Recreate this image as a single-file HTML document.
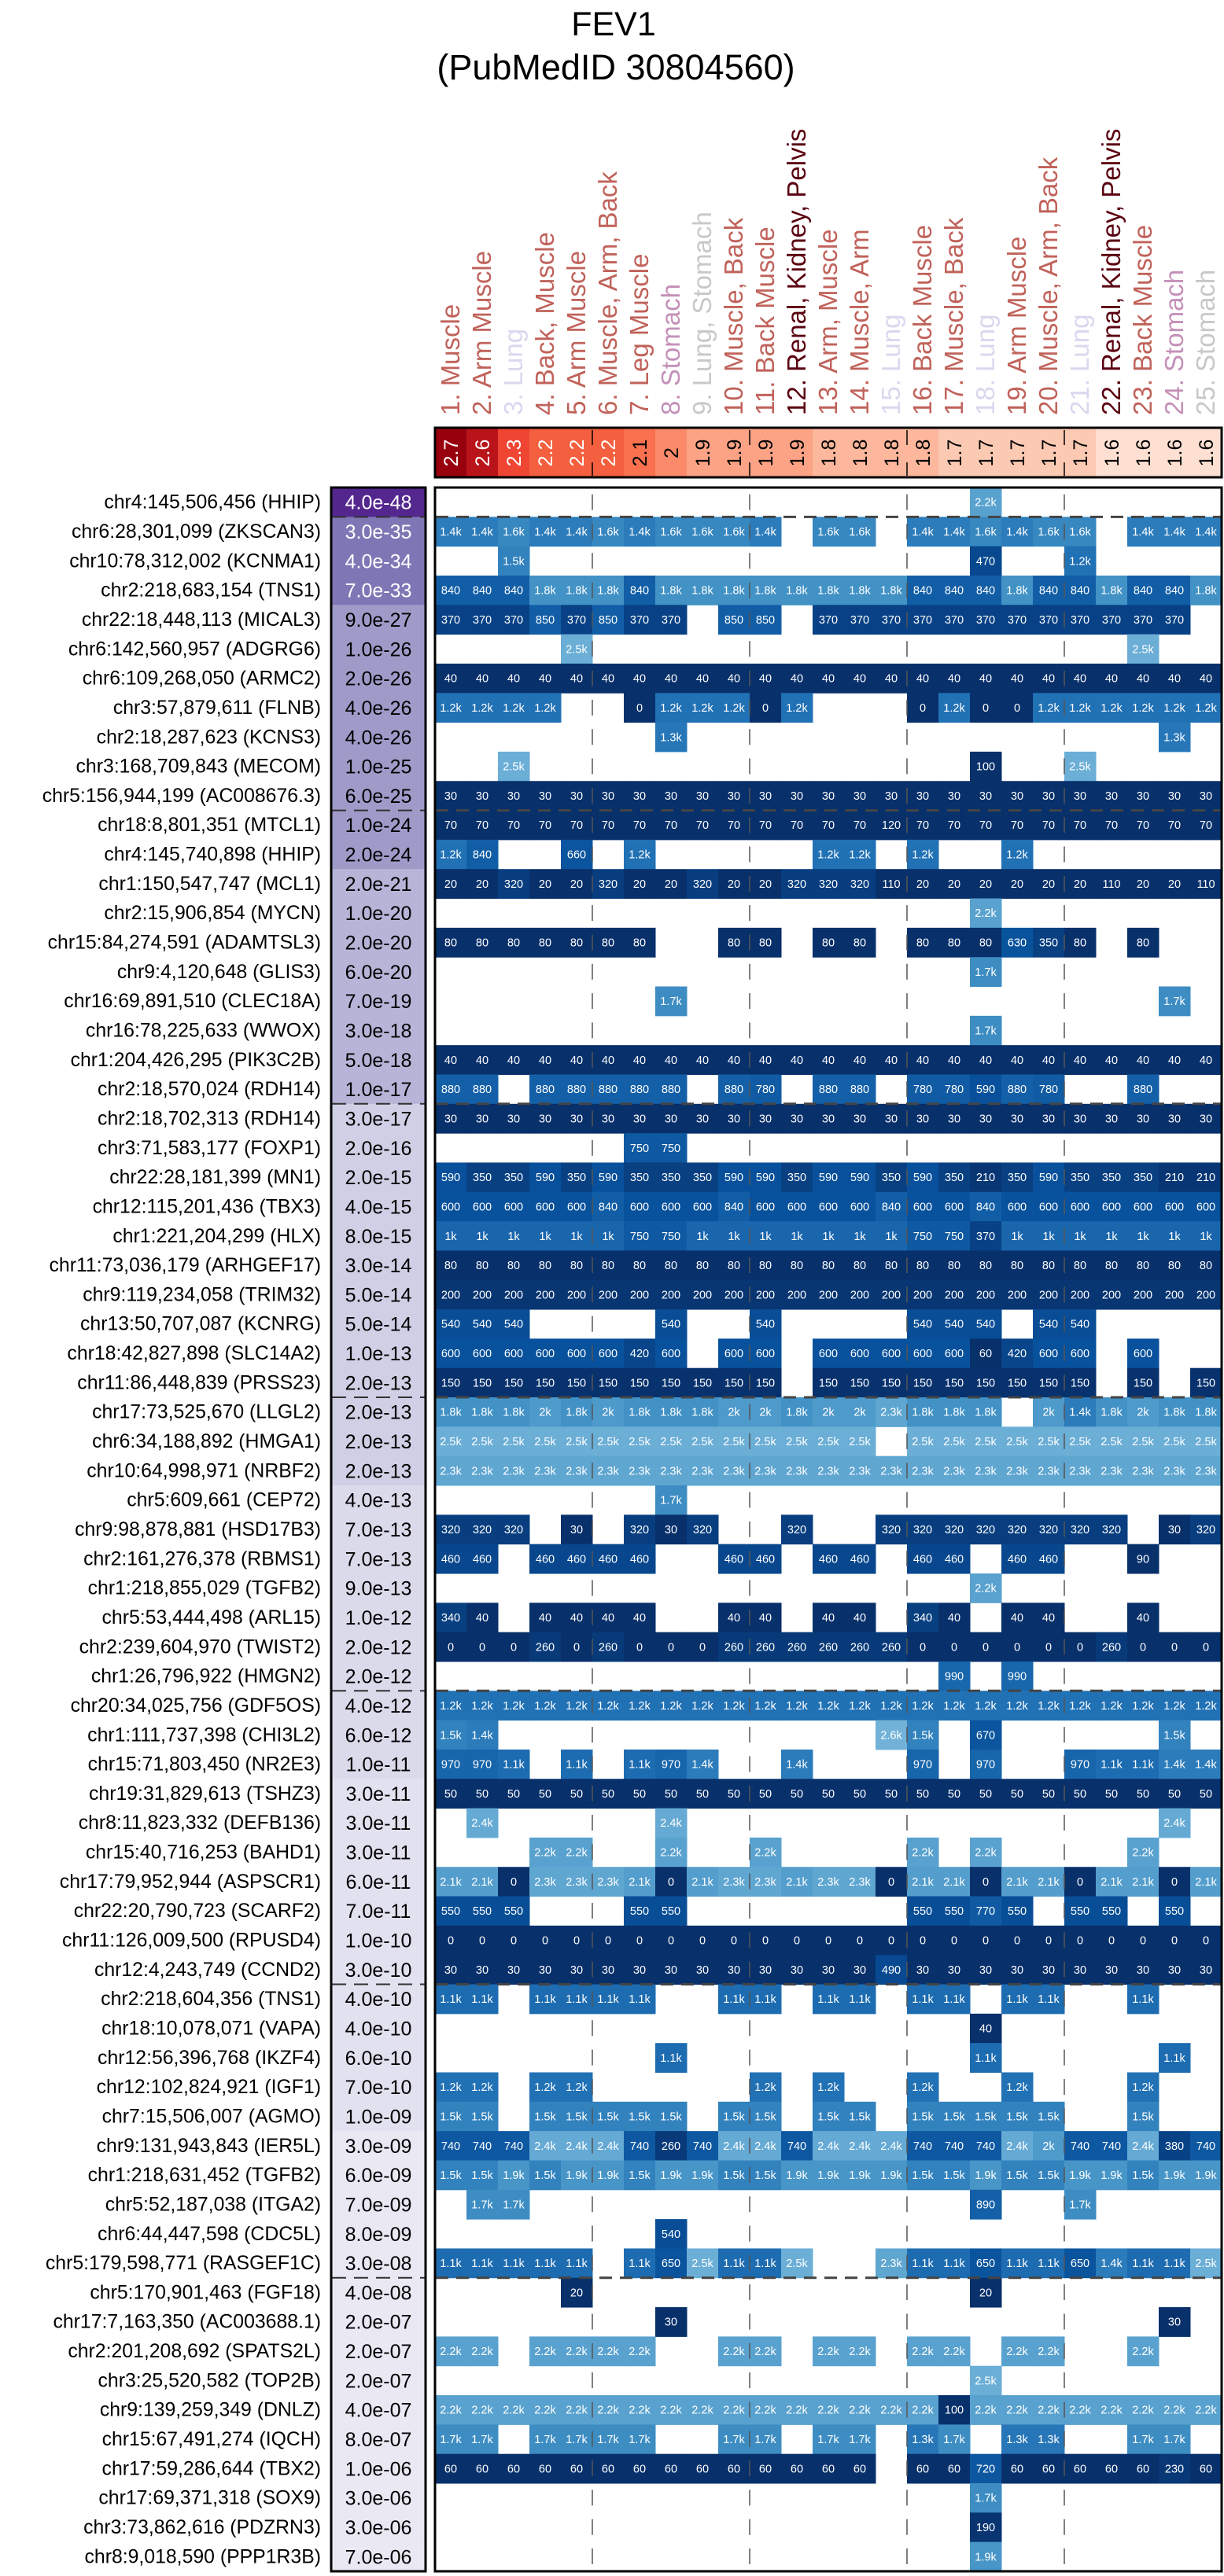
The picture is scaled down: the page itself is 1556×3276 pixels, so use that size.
<!DOCTYPE html>
<html><head><meta charset="utf-8"><title>FEV1 heatmap</title>
<style>
html,body{margin:0;padding:0;background:#fff;}
svg{display:block;font-family:"Liberation Sans",Arial,sans-serif;}
</style></head>
<body>
<svg id="chart" xmlns="http://www.w3.org/2000/svg" width="1556" height="3276" viewBox="0 0 1556 3276">
<text x="780" y="45" text-anchor="middle" font-size="43">FEV1</text>
<text x="783" y="101" text-anchor="middle" font-size="45">(PubMedID 30804560)</text>
<g id="hdr"></g>
<g id="pcol"></g>
<g id="cells"></g>
<g id="labels"></g>
<g id="overlay"></g>
</svg>
<script>
const _ = null;
const columnLabels = ["1. Muscle","2. Arm Muscle","3. Lung","4. Back, Muscle","5. Arm Muscle","6. Muscle, Arm, Back","7. Leg Muscle","8. Stomach","9. Lung, Stomach","10. Muscle, Back","11. Back Muscle","12. Renal, Kidney, Pelvis","13. Arm, Muscle","14. Muscle, Arm","15. Lung","16. Back Muscle","17. Muscle, Back","18. Lung","19. Arm Muscle","20. Muscle, Arm, Back","21. Lung","22. Renal, Kidney, Pelvis","23. Back Muscle","24. Stomach","25. Stomach"];
const columnKinds = ["m","m","l","m","m","m","m","s","g","m","m","r","m","m","l","m","m","l","m","m","l","r","m","s","g"];
const columnScores = [2.7,2.6,2.3,2.2,2.2,2.2,2.1,2,1.9,1.9,1.9,1.9,1.8,1.8,1.8,1.8,1.7,1.7,1.7,1.7,1.7,1.6,1.6,1.6,1.6];
const rowLabels = ["chr4:145,506,456 (HHIP)","chr6:28,301,099 (ZKSCAN3)","chr10:78,312,002 (KCNMA1)","chr2:218,683,154 (TNS1)","chr22:18,448,113 (MICAL3)","chr6:142,560,957 (ADGRG6)","chr6:109,268,050 (ARMC2)","chr3:57,879,611 (FLNB)","chr2:18,287,623 (KCNS3)","chr3:168,709,843 (MECOM)","chr5:156,944,199 (AC008676.3)","chr18:8,801,351 (MTCL1)","chr4:145,740,898 (HHIP)","chr1:150,547,747 (MCL1)","chr2:15,906,854 (MYCN)","chr15:84,274,591 (ADAMTSL3)","chr9:4,120,648 (GLIS3)","chr16:69,891,510 (CLEC18A)","chr16:78,225,633 (WWOX)","chr1:204,426,295 (PIK3C2B)","chr2:18,570,024 (RDH14)","chr2:18,702,313 (RDH14)","chr3:71,583,177 (FOXP1)","chr22:28,181,399 (MN1)","chr12:115,201,436 (TBX3)","chr1:221,204,299 (HLX)","chr11:73,036,179 (ARHGEF17)","chr9:119,234,058 (TRIM32)","chr13:50,707,087 (KCNRG)","chr18:42,827,898 (SLC14A2)","chr11:86,448,839 (PRSS23)","chr17:73,525,670 (LLGL2)","chr6:34,188,892 (HMGA1)","chr10:64,998,971 (NRBF2)","chr5:609,661 (CEP72)","chr9:98,878,881 (HSD17B3)","chr2:161,276,378 (RBMS1)","chr1:218,855,029 (TGFB2)","chr5:53,444,498 (ARL15)","chr2:239,604,970 (TWIST2)","chr1:26,796,922 (HMGN2)","chr20:34,025,756 (GDF5OS)","chr1:111,737,398 (CHI3L2)","chr15:71,803,450 (NR2E3)","chr19:31,829,613 (TSHZ3)","chr8:11,823,332 (DEFB136)","chr15:40,716,253 (BAHD1)","chr17:79,952,944 (ASPSCR1)","chr22:20,790,723 (SCARF2)","chr11:126,009,500 (RPUSD4)","chr12:4,243,749 (CCND2)","chr2:218,604,356 (TNS1)","chr18:10,078,071 (VAPA)","chr12:56,396,768 (IKZF4)","chr12:102,824,921 (IGF1)","chr7:15,506,007 (AGMO)","chr9:131,943,843 (IER5L)","chr1:218,631,452 (TGFB2)","chr5:52,187,038 (ITGA2)","chr6:44,447,598 (CDC5L)","chr5:179,598,771 (RASGEF1C)","chr5:170,901,463 (FGF18)","chr17:7,163,350 (AC003688.1)","chr2:201,208,692 (SPATS2L)","chr3:25,520,582 (TOP2B)","chr9:139,259,349 (DNLZ)","chr15:67,491,274 (IQCH)","chr17:59,286,644 (TBX2)","chr17:69,371,318 (SOX9)","chr3:73,862,616 (PDZRN3)","chr8:9,018,590 (PPP1R3B)"];
const pValues = ["4.0e-48","3.0e-35","4.0e-34","7.0e-33","9.0e-27","1.0e-26","2.0e-26","4.0e-26","4.0e-26","1.0e-25","6.0e-25","1.0e-24","2.0e-24","2.0e-21","1.0e-20","2.0e-20","6.0e-20","7.0e-19","3.0e-18","5.0e-18","1.0e-17","3.0e-17","2.0e-16","2.0e-15","4.0e-15","8.0e-15","3.0e-14","5.0e-14","5.0e-14","1.0e-13","2.0e-13","2.0e-13","2.0e-13","2.0e-13","4.0e-13","7.0e-13","7.0e-13","9.0e-13","1.0e-12","2.0e-12","2.0e-12","4.0e-12","6.0e-12","1.0e-11","3.0e-11","3.0e-11","3.0e-11","6.0e-11","7.0e-11","1.0e-10","3.0e-10","4.0e-10","4.0e-10","6.0e-10","7.0e-10","1.0e-09","3.0e-09","6.0e-09","7.0e-09","8.0e-09","3.0e-08","4.0e-08","2.0e-07","2.0e-07","2.0e-07","4.0e-07","8.0e-07","1.0e-06","3.0e-06","3.0e-06","7.0e-06"];
const groupBreaks = [1,11,21,31,41,51,61];
const cellValues = [
[_,_,_,_,_,_,_,_,_,_,_,_,_,_,_,_,_,2200,_,_,_,_,_,_,_],
[1400,1400,1600,1400,1400,1600,1400,1600,1600,1600,1400,_,1600,1600,_,1400,1400,1600,1400,1600,1600,_,1400,1400,1400],
[_,_,1500,_,_,_,_,_,_,_,_,_,_,_,_,_,_,470,_,_,1200,_,_,_,_],
[840,840,840,1800,1800,1800,840,1800,1800,1800,1800,1800,1800,1800,1800,840,840,840,1800,840,840,1800,840,840,1800],
[370,370,370,850,370,850,370,370,_,850,850,_,370,370,370,370,370,370,370,370,370,370,370,370,_],
[_,_,_,_,2500,_,_,_,_,_,_,_,_,_,_,_,_,_,_,_,_,_,2500,_,_],
[40,40,40,40,40,40,40,40,40,40,40,40,40,40,40,40,40,40,40,40,40,40,40,40,40],
[1200,1200,1200,1200,_,_,0,1200,1200,1200,0,1200,_,_,_,0,1200,0,0,1200,1200,1200,1200,1200,1200],
[_,_,_,_,_,_,_,1300,_,_,_,_,_,_,_,_,_,_,_,_,_,_,_,1300,_],
[_,_,2500,_,_,_,_,_,_,_,_,_,_,_,_,_,_,100,_,_,2500,_,_,_,_],
[30,30,30,30,30,30,30,30,30,30,30,30,30,30,30,30,30,30,30,30,30,30,30,30,30],
[70,70,70,70,70,70,70,70,70,70,70,70,70,70,120,70,70,70,70,70,70,70,70,70,70],
[1200,840,_,_,660,_,1200,_,_,_,_,_,1200,1200,_,1200,_,_,1200,_,_,_,_,_,_],
[20,20,320,20,20,320,20,20,320,20,20,320,320,320,110,20,20,20,20,20,20,110,20,20,110],
[_,_,_,_,_,_,_,_,_,_,_,_,_,_,_,_,_,2200,_,_,_,_,_,_,_],
[80,80,80,80,80,80,80,_,_,80,80,_,80,80,_,80,80,80,630,350,80,_,80,_,_],
[_,_,_,_,_,_,_,_,_,_,_,_,_,_,_,_,_,1700,_,_,_,_,_,_,_],
[_,_,_,_,_,_,_,1700,_,_,_,_,_,_,_,_,_,_,_,_,_,_,_,1700,_],
[_,_,_,_,_,_,_,_,_,_,_,_,_,_,_,_,_,1700,_,_,_,_,_,_,_],
[40,40,40,40,40,40,40,40,40,40,40,40,40,40,40,40,40,40,40,40,40,40,40,40,40],
[880,880,_,880,880,880,880,880,_,880,780,_,880,880,_,780,780,590,880,780,_,_,880,_,_],
[30,30,30,30,30,30,30,30,30,30,30,30,30,30,30,30,30,30,30,30,30,30,30,30,30],
[_,_,_,_,_,_,750,750,_,_,_,_,_,_,_,_,_,_,_,_,_,_,_,_,_],
[590,350,350,590,350,590,350,350,350,590,590,350,590,590,350,590,350,210,350,590,350,350,350,210,210],
[600,600,600,600,600,840,600,600,600,840,600,600,600,600,840,600,600,840,600,600,600,600,600,600,600],
[1000,1000,1000,1000,1000,1000,750,750,1000,1000,1000,1000,1000,1000,1000,750,750,370,1000,1000,1000,1000,1000,1000,1000],
[80,80,80,80,80,80,80,80,80,80,80,80,80,80,80,80,80,80,80,80,80,80,80,80,80],
[200,200,200,200,200,200,200,200,200,200,200,200,200,200,200,200,200,200,200,200,200,200,200,200,200],
[540,540,540,_,_,_,_,540,_,_,540,_,_,_,_,540,540,540,_,540,540,_,_,_,_],
[600,600,600,600,600,600,420,600,_,600,600,_,600,600,600,600,600,60,420,600,600,_,600,_,_],
[150,150,150,150,150,150,150,150,150,150,150,_,150,150,150,150,150,150,150,150,150,_,150,_,150],
[1800,1800,1800,2000,1800,2000,1800,1800,1800,2000,2000,1800,2000,2000,2300,1800,1800,1800,_,2000,1400,1800,2000,1800,1800],
[2500,2500,2500,2500,2500,2500,2500,2500,2500,2500,2500,2500,2500,2500,_,2500,2500,2500,2500,2500,2500,2500,2500,2500,2500],
[2300,2300,2300,2300,2300,2300,2300,2300,2300,2300,2300,2300,2300,2300,2300,2300,2300,2300,2300,2300,2300,2300,2300,2300,2300],
[_,_,_,_,_,_,_,1700,_,_,_,_,_,_,_,_,_,_,_,_,_,_,_,_,_],
[320,320,320,_,30,_,320,30,320,_,_,320,_,_,320,320,320,320,320,320,320,320,_,30,320],
[460,460,_,460,460,460,460,_,_,460,460,_,460,460,_,460,460,_,460,460,_,_,90,_,_],
[_,_,_,_,_,_,_,_,_,_,_,_,_,_,_,_,_,2200,_,_,_,_,_,_,_],
[340,40,_,40,40,40,40,_,_,40,40,_,40,40,_,340,40,_,40,40,_,_,40,_,_],
[0,0,0,260,0,260,0,0,0,260,260,260,260,260,260,0,0,0,0,0,0,260,0,0,0],
[_,_,_,_,_,_,_,_,_,_,_,_,_,_,_,_,990,_,990,_,_,_,_,_,_],
[1200,1200,1200,1200,1200,1200,1200,1200,1200,1200,1200,1200,1200,1200,1200,1200,1200,1200,1200,1200,1200,1200,1200,1200,1200],
[1500,1400,_,_,_,_,_,_,_,_,_,_,_,_,2600,1500,_,670,_,_,_,_,_,1500,_],
[970,970,1100,_,1100,_,1100,970,1400,_,_,1400,_,_,_,970,_,970,_,_,970,1100,1100,1400,1400],
[50,50,50,50,50,50,50,50,50,50,50,50,50,50,50,50,50,50,50,50,50,50,50,50,50],
[_,2400,_,_,_,_,_,2400,_,_,_,_,_,_,_,_,_,_,_,_,_,_,_,2400,_],
[_,_,_,2200,2200,_,_,2200,_,_,2200,_,_,_,_,2200,_,2200,_,_,_,_,2200,_,_],
[2100,2100,0,2300,2300,2300,2100,0,2100,2300,2300,2100,2300,2300,0,2100,2100,0,2100,2100,0,2100,2100,0,2100],
[550,550,550,_,_,_,550,550,_,_,_,_,_,_,_,550,550,770,550,_,550,550,_,550,_],
[0,0,0,0,0,0,0,0,0,0,0,0,0,0,0,0,0,0,0,0,0,0,0,0,0],
[30,30,30,30,30,30,30,30,30,30,30,30,30,30,490,30,30,30,30,30,30,30,30,30,30],
[1100,1100,_,1100,1100,1100,1100,_,_,1100,1100,_,1100,1100,_,1100,1100,_,1100,1100,_,_,1100,_,_],
[_,_,_,_,_,_,_,_,_,_,_,_,_,_,_,_,_,40,_,_,_,_,_,_,_],
[_,_,_,_,_,_,_,1100,_,_,_,_,_,_,_,_,_,1100,_,_,_,_,_,1100,_],
[1200,1200,_,1200,1200,_,_,_,_,_,1200,_,1200,_,_,1200,_,_,1200,_,_,_,1200,_,_],
[1500,1500,_,1500,1500,1500,1500,1500,_,1500,1500,_,1500,1500,_,1500,1500,1500,1500,1500,_,_,1500,_,_],
[740,740,740,2400,2400,2400,740,260,740,2400,2400,740,2400,2400,2400,740,740,740,2400,2000,740,740,2400,380,740],
[1500,1500,1900,1500,1900,1900,1500,1900,1900,1500,1500,1900,1900,1900,1900,1500,1500,1900,1500,1500,1900,1900,1500,1900,1900],
[_,1700,1700,_,_,_,_,_,_,_,_,_,_,_,_,_,_,890,_,_,1700,_,_,_,_],
[_,_,_,_,_,_,_,540,_,_,_,_,_,_,_,_,_,_,_,_,_,_,_,_,_],
[1100,1100,1100,1100,1100,_,1100,650,2500,1100,1100,2500,_,_,2300,1100,1100,650,1100,1100,650,1400,1100,1100,2500],
[_,_,_,_,20,_,_,_,_,_,_,_,_,_,_,_,_,20,_,_,_,_,_,_,_],
[_,_,_,_,_,_,_,30,_,_,_,_,_,_,_,_,_,_,_,_,_,_,_,30,_],
[2200,2200,_,2200,2200,2200,2200,_,_,2200,2200,_,2200,2200,_,2200,2200,_,2200,2200,_,_,2200,_,_],
[_,_,_,_,_,_,_,_,_,_,_,_,_,_,_,_,_,2500,_,_,_,_,_,_,_],
[2200,2200,2200,2200,2200,2200,2200,2200,2200,2200,2200,2200,2200,2200,2200,2200,100,2200,2200,2200,2200,2200,2200,2200,2200],
[1700,1700,_,1700,1700,1700,1700,_,_,1700,1700,_,1700,1700,_,1300,1700,_,1300,1300,_,_,1700,1700,_],
[60,60,60,60,60,60,60,60,60,60,60,60,60,60,_,60,60,720,60,60,60,60,60,230,60],
[_,_,_,_,_,_,_,_,_,_,_,_,_,_,_,_,_,1700,_,_,_,_,_,_,_],
[_,_,_,_,_,_,_,_,_,_,_,_,_,_,_,_,_,190,_,_,_,_,_,_,_],
[_,_,_,_,_,_,_,_,_,_,_,_,_,_,_,_,_,1900,_,_,_,_,_,_,_]
];

const NS = "http://www.w3.org/2000/svg";
const X0 = 553, CW = 40, Y0 = 620, Y1 = 3270;
const RH = (Y1 - Y0) / rowLabels.length;
function xCol(i){ return X0 + i * CW; }
function yRow(r){ return Y0 + r * RH; }
function mk(tag, attrs, parent){
  const el = document.createElementNS(NS, tag);
  for (const k in attrs) el.setAttribute(k, attrs[k]);
  parent.appendChild(el);
  return el;
}
function hex(c){ return [parseInt(c.slice(1,3),16),parseInt(c.slice(3,5),16),parseInt(c.slice(5,7),16)]; }
function lerp(stops, v){
  if (v <= stops[0][0]) return stops[0][1];
  for (let i = 1; i < stops.length; i++){
    if (v <= stops[i][0]){
      const t = (v - stops[i-1][0]) / (stops[i][0] - stops[i-1][0]);
      const a = hex(stops[i-1][1]), b = hex(stops[i][1]);
      return "rgb(" + a.map((x,j)=>Math.round(x + (b[j]-x)*t)).join(",") + ")";
    }
  }
  return stops[stops.length-1][1];
}
const blueStops = [[0,"#08306b"],[120,"#08306b"],[600,"#08519c"],[1200,"#2171b5"],[1800,"#4292c6"],[2500,"#6baed6"],[2700,"#78b5d9"]];
const redStops = [[1.6,"#fee0d2"],[1.7,"#fcc9b3"],[1.8,"#fcb79c"],[1.9,"#fca385"],[2.0,"#fb8a6a"],[2.1,"#f9714f"],[2.2,"#f4603f"],[2.3,"#ef4533"],[2.6,"#b81419"],[2.7,"#99000d"]];
const kindColor = {m:"#c0625a", l:"#dcd6ee", s:"#c490b8", g:"#c8c8c8", r:"#5a0010"};
function fmt(v){ return v >= 1000 ? (Math.round(v/100)/10) + "k" : String(v); }
function pColor(p){
  const L = -Math.log10(parseFloat(p));
  if (L >= 40) return "#54278f";
  if (L >= 30) return "#7f77b5";
  if (L >= 23.5) return "#9f9bc9";
  if (L >= 16.9) return "#b6b4d7";
  if (L >= 12.65) return "#cfcfe5";
  if (L >= 11) return "#dbdaeb";
  if (L >= 9) return "#e2e1ef";
  return "#e9e8f3";
}

const hdr = document.getElementById("hdr");
columnLabels.forEach((lab, i) => {
  const cx = xCol(i) + CW/2;
  const t = mk("text", {x: cx + 11, y: 528, transform: "rotate(-90 " + (cx + 11) + " 528)", "font-size": 33, fill: kindColor[columnKinds[i]]}, hdr);
  
  
  t.textContent = lab;
  const r = mk("rect", {x: xCol(i), y: 544, width: CW + 0.5, height: 63, fill: lerp(redStops, columnScores[i])}, hdr);
  
  
});
columnScores.forEach((s, i) => {
  const cx = xCol(i) + CW/2;
  const t = mk("text", {x: cx + 9, y: 576, transform: "rotate(-90 " + (cx + 9) + " 576)", "font-size": 25, "text-anchor": "middle", fill: s >= 2.2 ? "#fff" : "#000"}, hdr);
  
  
  t.textContent = String(s);
});
[5,10,15,20].forEach(c => {
  mk("line", {x1: xCol(c), x2: xCol(c), y1: 547, y2: 566, stroke: "#000", "stroke-width": 1.5}, hdr);
  mk("line", {x1: xCol(c), x2: xCol(c), y1: 588, y2: 605, stroke: "#000", "stroke-width": 1.5}, hdr);
});
const hb = mk("rect", {x: 553, y: 544, width: 1000, height: 63, fill: "none", stroke: "#000", "stroke-width": 3}, hdr);



const pcol = document.getElementById("pcol");
const cells = document.getElementById("cells");
const labels = document.getElementById("labels");
rowLabels.forEach((lab, r) => {
  const y = yRow(r);
  const pr = mk("rect", {x: 421, y: y, width: 120, height: RH + 0.5, fill: pColor(pValues[r])}, pcol);
  
  
  const L = -Math.log10(parseFloat(pValues[r]));
  const pt = mk("text", {x: 481, y: y + RH/2 + 9, "text-anchor": "middle", "font-size": 25, fill: L >= 30 ? "#fff" : "#000"}, pcol);
  
  
  pt.textContent = pValues[r];
  const lt = mk("text", {x: 408, y: y + RH/2 + 8, "text-anchor": "end", "font-size": 24.8, fill: "#000"}, labels);
  
  
  lt.textContent = lab;
  cellValues[r].forEach((v, c) => {
    if (v === null) return;
    const cr = mk("rect", {x: xCol(c), y: y, width: CW + 0.5, height: RH + 0.5, fill: lerp(blueStops, v)}, cells);
    
    
    const ct = mk("text", {x: xCol(c) + CW/2, y: y + RH/2 + 5, "text-anchor": "middle", "font-size": 14.5, fill: "#fff"}, cells);
    
    
    ct.textContent = fmt(v);
  });
});

const ov = document.getElementById("overlay");
[5,10,15,20].forEach(c => {
  const ln = mk("line", {x1: xCol(c), x2: xCol(c), y1: Y0, y2: Y1, stroke: "#555", "stroke-width": 1.5,
    "stroke-dasharray": "20 " + (RH - 20).toFixed(2), "stroke-dashoffset": (-(RH - 20)/2).toFixed(2)}, ov);
  
  
});
groupBreaks.forEach(b => {
  const y = yRow(b);
  const g1 = mk("line", {x1: 422, x2: 540, y1: y, y2: y, stroke: "#333", "stroke-width": 2, "stroke-dasharray": "18 10"}, ov);
  
  
  const g2 = mk("line", {x1: 554, x2: 1552, y1: y, y2: y, stroke: "#444", "stroke-width": 3, "stroke-dasharray": "16 10"}, ov);
  
  
});
const pb = mk("rect", {x: 421, y: Y0, width: 120, height: Y1 - Y0, fill: "none", stroke: "#000", "stroke-width": 3}, ov);


const mb = mk("rect", {x: 553, y: Y0, width: 1000, height: Y1 - Y0, fill: "none", stroke: "#000", "stroke-width": 3}, ov);


</script>
</body></html>
